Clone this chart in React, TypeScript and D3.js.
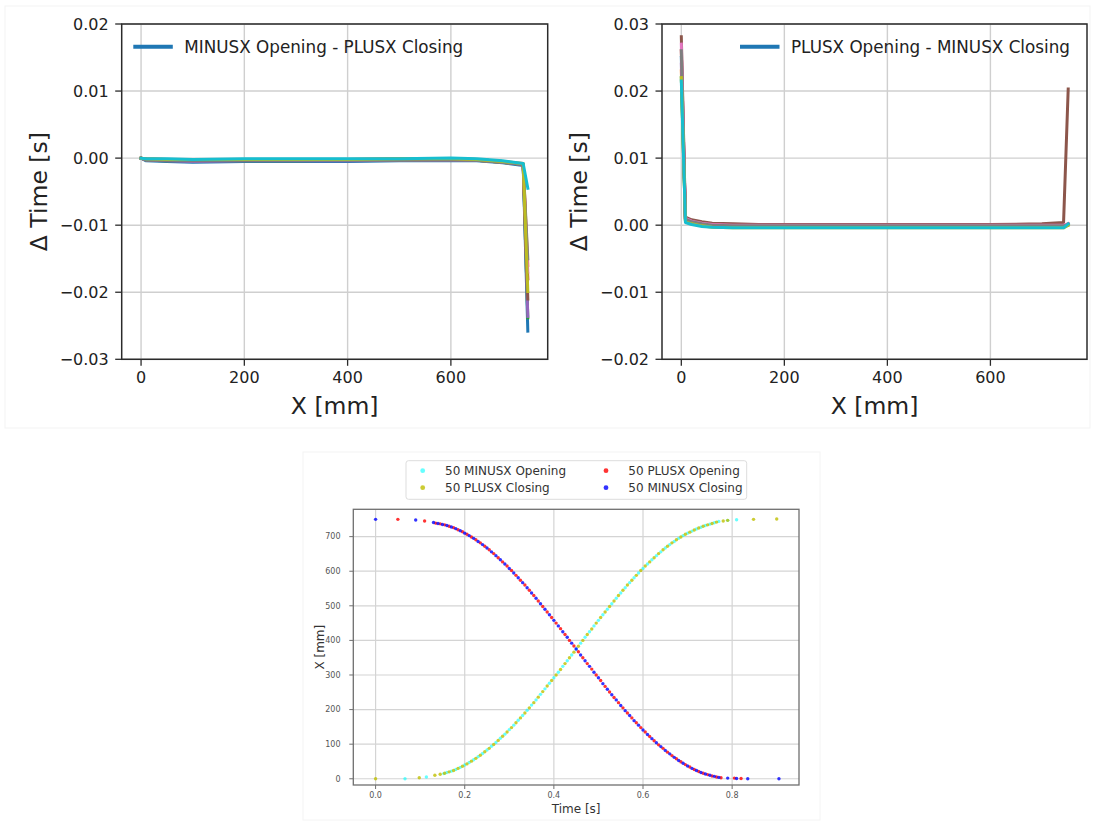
import React from "react";
import * as d3 from "d3";

// ---------- colours (matplotlib tab10 cycle) ----------
const tab10 = ["#1f77b4", "#ff7f0e", "#2ca02c", "#d62728", "#9467bd", "#8c564b", "#e377c2", "#7f7f7f", "#bcbd22", "#17becf"];

// ---------- top-left: MINUSX Opening - PLUSX Closing ----------
const leftXs = [0, 10, 50, 100, 200, 300, 400, 500, 600, 650, 700, 740, 749];
const leftRun0 = [0, -0.0004, -0.0005, -0.0006, -0.0005, -0.0005, -0.0005, -0.0004, -0.0004, -0.0004, -0.0007, -0.0011, -0.0258];
const leftRun1 = [0, -0.0002, -0.0003, -0.0003, -0.0003, -0.0003, -0.0003, -0.0002, -0.0002, -0.0003, -0.0006, -0.0009, -0.016];
const leftRun2 = [0, -0.0003, -0.0004, -0.0004, -0.0004, -0.0004, -0.0003, -0.0003, -0.0003, -0.0003, -0.0006, -0.001, -0.0238];
const leftRun3 = [0, -0.0001, -0.0002, -0.0002, -0.0002, -0.0002, -0.0002, -0.0001, -0.0001, -0.0002, -0.0005, -0.0009, -0.018];
const leftRun4 = [0, -0.0003, -0.0004, -0.0005, -0.0004, -0.0004, -0.0004, -0.0003, -0.0003, -0.0003, -0.0006, -0.001, -0.0236];
const leftRun5 = [0, -0.0002, -0.0003, -0.0003, -0.0003, -0.0002, -0.0002, -0.0002, -0.0002, -0.0002, -0.0005, -0.0009, -0.021];
const leftRun6 = [0, -0.0002, -0.0002, -0.0003, -0.0002, -0.0002, -0.0002, -0.0002, -0.0002, -0.0002, -0.0005, -0.0008, -0.017];
const leftRun7 = [0, -0.0003, -0.0003, -0.0004, -0.0003, -0.0003, -0.0003, -0.0003, -0.0002, -0.0003, -0.0006, -0.0009, -0.015];
const leftRun8 = [0, -0.0001, -0.0002, -0.0002, -0.0002, -0.0002, -0.0002, -0.0001, -0.0001, -0.0002, -0.0005, -0.0008, -0.0199];
const leftRun9 = [0, -0.0001, -0.0001, -0.0002, -0.0001, -0.0001, -0.0001, -0.0001, 0, -0.0001, -0.0004, -0.0008, -0.0045];
const leftRuns = [leftRun0, leftRun1, leftRun2, leftRun3, leftRun4, leftRun5, leftRun6, leftRun7, leftRun8, leftRun9];
const leftYTicks = [-0.03, -0.02, -0.01, 0, 0.01, 0.02];

// ---------- top-right: PLUSX Opening - MINUSX Closing ----------
const rightXs = [0, 8, 20, 40, 60, 100, 150, 200, 300, 400, 500, 600, 700, 742, 751];
const rightRun0 = [0.025, 0.0008, 0.0004, 0.0001, -0.0001, -0.0002, -0.0002, -0.0002, -0.0002, -0.0002, -0.0002, -0.0002, -0.0002, -0.0002, 0.0001];
const rightRun1 = [0.023, 0.0007, 0.0003, 0.0, -0.0002, -0.0003, -0.0003, -0.0003, -0.0003, -0.0003, -0.0003, -0.0003, -0.0003, -0.0003, 0.0001];
const rightRun2 = [0.022, 0.0006, 0.0003, 0.0, -0.0002, -0.0003, -0.0003, -0.0003, -0.0003, -0.0003, -0.0003, -0.0003, -0.0003, -0.0003, 0.0];
const rightRun3 = [0.026, 0.0009, 0.0005, 0.0002, 0.0, -0.0001, -0.0001, -0.0001, -0.0001, -0.0001, -0.0001, -0.0001, -0.0001, -0.0001, 0.0002];
const rightRun4 = [0.024, 0.0008, 0.0004, 0.0001, -0.0001, -0.0002, -0.0002, -0.0002, -0.0002, -0.0002, -0.0002, -0.0002, -0.0002, -0.0002, 0.0001];
const rightRun5 = [0.0281, 0.0012, 0.0008, 0.0005, 0.0003, 0.0002, 0.0001, 0.0001, 0.0001, 0.0001, 0.0001, 0.0001, 0.0002, 0.0004, 0.0203];
const rightRun6 = [0.027, 0.001, 0.0006, 0.0003, 0.0001, 0.0, 0.0, 0.0, 0.0, 0.0, 0.0, 0.0, 0.0, 0.0, 0.0002];
const rightRun7 = [0.026, 0.0009, 0.0005, 0.0002, 0.0, -0.0001, -0.0001, -0.0001, -0.0001, -0.0001, -0.0001, -0.0001, -0.0001, -0.0001, 0.0001];
const rightRun8 = [0.022, 0.0005, 0.0002, -0.0001, -0.0003, -0.0004, -0.0004, -0.0004, -0.0004, -0.0004, -0.0004, -0.0004, -0.0004, -0.0004, 0.0];
const rightRun9 = [0.0215, 0.0004, 0.0001, -0.0002, -0.0003, -0.0004, -0.0004, -0.0004, -0.0004, -0.0004, -0.0004, -0.0004, -0.0004, -0.0004, 0.0002];
const rightRuns = [rightRun0, rightRun1, rightRun2, rightRun3, rightRun4, rightRun5, rightRun6, rightRun7, rightRun8, rightRun9];
const rightYTicks = [-0.02, -0.01, 0, 0.01, 0.02, 0.03];

const topXTicks = [0, 200, 400, 600];

// ---------- bottom scatter: [time s, X mm] ----------
const minusxOpening: [number, number][] = [
  [0.066, 0], [0.114, 5], [0.153, 15], [0.16, 18], [0.17, 22], [0.18, 27], [0.19, 33], [0.2, 40], [0.21, 47], [0.22, 55],
  [0.23, 64], [0.24, 73], [0.25, 83], [0.26, 94], [0.27, 105], [0.28, 117], [0.29, 129], [0.3, 142], [0.31, 155], [0.32, 169],
  [0.33, 183], [0.34, 198], [0.35, 213], [0.36, 228], [0.37, 244], [0.38, 260], [0.39, 276], [0.4, 292], [0.41, 308], [0.42, 325],
  [0.43, 341], [0.44, 358], [0.45, 375], [0.46, 392], [0.47, 409], [0.48, 425], [0.49, 442], [0.5, 458], [0.51, 474], [0.52, 490],
  [0.53, 506], [0.54, 522], [0.55, 537], [0.56, 552], [0.57, 567], [0.58, 581], [0.59, 595], [0.6, 608], [0.61, 621], [0.62, 633],
  [0.63, 645], [0.64, 656], [0.65, 667], [0.66, 677], [0.67, 686], [0.68, 695], [0.69, 703], [0.7, 710], [0.71, 716], [0.72, 722],
  [0.73, 727], [0.74, 732], [0.75, 736], [0.76, 740], [0.77, 744], [0.79, 747], [0.81, 749],
];
const plusxClosing: [number, number][] = [
  [0.0, 0], [0.098, 3], [0.133, 10], [0.145, 13], [0.155, 16], [0.165, 20], [0.175, 24], [0.185, 30], [0.195, 36], [0.205, 43],
  [0.215, 51], [0.225, 59], [0.235, 68], [0.245, 78], [0.255, 88], [0.265, 99], [0.275, 111], [0.285, 123], [0.295, 135], [0.305, 148],
  [0.315, 162], [0.325, 176], [0.335, 190], [0.345, 205], [0.355, 220], [0.365, 236], [0.375, 252], [0.385, 268], [0.395, 284], [0.405, 300],
  [0.415, 316], [0.425, 333], [0.435, 350], [0.445, 366], [0.455, 383], [0.465, 400], [0.475, 417], [0.485, 433], [0.495, 450], [0.505, 466],
  [0.515, 482], [0.525, 498], [0.535, 514], [0.545, 530], [0.555, 545], [0.565, 560], [0.575, 574], [0.585, 588], [0.595, 602], [0.605, 615],
  [0.615, 627], [0.625, 639], [0.635, 651], [0.645, 662], [0.655, 672], [0.665, 682], [0.675, 691], [0.685, 699], [0.695, 707], [0.705, 713],
  [0.715, 719], [0.725, 725], [0.735, 730], [0.745, 734], [0.755, 738], [0.765, 742], [0.78, 745], [0.79, 747], [0.848, 750], [0.9, 751],
];
const plusxOpening: [number, number][] = [
  [0.05, 750], [0.11, 745], [0.135, 739], [0.145, 737], [0.155, 734], [0.165, 730], [0.175, 726], [0.185, 720], [0.195, 714], [0.205, 707],
  [0.215, 699], [0.225, 691], [0.235, 682], [0.245, 672], [0.255, 662], [0.265, 651], [0.275, 639], [0.285, 627], [0.295, 615], [0.305, 602],
  [0.315, 588], [0.325, 574], [0.335, 560], [0.345, 545], [0.355, 530], [0.365, 514], [0.375, 498], [0.385, 482], [0.395, 466], [0.405, 450],
  [0.415, 434], [0.425, 417], [0.435, 400], [0.445, 384], [0.455, 367], [0.465, 350], [0.475, 333], [0.485, 317], [0.495, 300], [0.505, 284],
  [0.515, 267], [0.525, 251], [0.535, 235], [0.545, 220], [0.555, 205], [0.565, 190], [0.575, 176], [0.585, 162], [0.595, 148], [0.605, 135],
  [0.615, 122], [0.625, 110], [0.635, 98], [0.645, 88], [0.655, 77], [0.665, 67], [0.675, 58], [0.685, 49], [0.695, 41], [0.705, 34],
  [0.715, 27], [0.725, 21], [0.735, 16], [0.745, 12], [0.755, 8], [0.765, 5], [0.775, 3], [0.805, 2], [0.82, 1],
];
const minusxClosing: [number, number][] = [
  [0.0, 750], [0.09, 748], [0.13, 741], [0.14, 738], [0.15, 735], [0.16, 732], [0.17, 728], [0.18, 723], [0.19, 717], [0.2, 710],
  [0.21, 703], [0.22, 695], [0.23, 686], [0.24, 677], [0.25, 667], [0.26, 656], [0.27, 645], [0.28, 633], [0.29, 621], [0.3, 608],
  [0.31, 595], [0.32, 581], [0.33, 567], [0.34, 552], [0.35, 537], [0.36, 522], [0.37, 506], [0.38, 490], [0.39, 474], [0.4, 458],
  [0.41, 442], [0.42, 425], [0.43, 409], [0.44, 392], [0.45, 375], [0.46, 358], [0.47, 341], [0.48, 325], [0.49, 308], [0.5, 292],
  [0.51, 275], [0.52, 259], [0.53, 243], [0.54, 228], [0.55, 212], [0.56, 197], [0.57, 183], [0.58, 168], [0.59, 155], [0.6, 141],
  [0.61, 128], [0.62, 116], [0.63, 104], [0.64, 93], [0.65, 82], [0.66, 72], [0.67, 62], [0.68, 53], [0.69, 45], [0.7, 37],
  [0.71, 30], [0.72, 24], [0.73, 18], [0.74, 14], [0.75, 10], [0.76, 7], [0.77, 4], [0.79, 2], [0.81, 1], [0.835, 0], [0.905, 0],
];
const scatterSeries = [
  { label: "50 MINUSX Opening", color: "#00ffff", opacity: 0.6, data: minusxOpening },
  { label: "50 PLUSX Closing", color: "#bfbf00", opacity: 0.8, data: plusxClosing },
  { label: "50 PLUSX Opening", color: "#ff0000", opacity: 0.8, data: plusxOpening },
  { label: "50 MINUSX Closing", color: "#0000ff", opacity: 0.8, data: minusxClosing },
];
const bottomXTicks = [0, 0.2, 0.4, 0.6, 0.8];
const bottomYTicks = [0, 100, 200, 300, 400, 500, 600, 700];

const FONT = "'DejaVu Sans', sans-serif";

type Box = { l: number; r: number; t: number; b: number };

function LinePanel(props: {
  id: string; box: Box; yDomain: [number, number]; yTicks: number[]; xs: number[]; runs: number[][];
  legend: string; legendX: number; yLabelX: number;
}) {
  const { id, box, yDomain, yTicks, xs, runs, legend, legendX, yLabelX } = props;
  const x = d3.scaleLinear().domain([-37.5, 787.5]).range([box.l, box.r]);
  const y = d3.scaleLinear().domain(yDomain).range([box.b, box.t]);
  const fmt = d3.format(".2f");
  const line = d3.line<number>().x((_, i) => x(xs[i])).y((d) => y(d));
  const cy = (box.t + box.b) / 2;
  const cx = (box.l + box.r) / 2;
  return (
    <g>
      <clipPath id={id}><rect x={box.l} y={box.t} width={box.r - box.l} height={box.b - box.t} /></clipPath>
      {topXTicks.map((v) => (
        <line key={"gx" + v} x1={x(v)} x2={x(v)} y1={box.t} y2={box.b} stroke="#cfcfcf" strokeWidth={1.4} />
      ))}
      {yTicks.map((v) => (
        <line key={"gy" + v} x1={box.l} x2={box.r} y1={y(v)} y2={y(v)} stroke="#cfcfcf" strokeWidth={1.4} />
      ))}
      <g clipPath={`url(#${id})`}>
        {runs.map((r, i) => (
          <path key={i} d={line(r) || ""} fill="none" stroke={tab10[i % 10]} strokeWidth={3} strokeLinejoin="round" strokeLinecap="square" />
        ))}
      </g>
      <rect x={box.l} y={box.t} width={box.r - box.l} height={box.b - box.t} fill="none" stroke="#2b2b2b" strokeWidth={1.5} />
      {topXTicks.map((v) => (
        <g key={"tx" + v}>
          <line x1={x(v)} x2={x(v)} y1={box.b} y2={box.b + 6.5} stroke="#2b2b2b" strokeWidth={1.3} />
          <text x={x(v)} y={box.b + 24} textAnchor="middle" fontSize={16} fill="#222" fontFamily={FONT}>{v}</text>
        </g>
      ))}
      {yTicks.map((v) => (
        <g key={"ty" + v}>
          <line x1={box.l - 6.5} x2={box.l} y1={y(v)} y2={y(v)} stroke="#2b2b2b" strokeWidth={1.3} />
          <text x={box.l - 13} y={y(v)} dy="0.35em" textAnchor="end" fontSize={16} fill="#222" fontFamily={FONT}>{fmt(v)}</text>
        </g>
      ))}
      <text x={cx} y={414} textAnchor="middle" fontSize={23.5} fill="#222" fontFamily={FONT}>X [mm]</text>
      <text transform={`translate(${yLabelX},${cy}) rotate(-90)`} textAnchor="middle" fontSize={23.5} fill="#222" fontFamily={FONT}>Δ Time [s]</text>
      <line x1={legendX} x2={legendX + 39.5} y1={46.7} y2={46.7} stroke={tab10[0]} strokeWidth={4} />
      <text x={legendX + 51} y={46.7} dy="0.35em" fontSize={16.8} fill="#222" fontFamily={FONT}>{legend}</text>
    </g>
  );
}

function ScatterPanel() {
  const box: Box = { l: 353.3, r: 799, t: 509.3, b: 785 };
  const x = d3.scaleLinear().domain([-0.05, 0.95]).range([box.l, box.r]);
  const y = d3.scaleLinear().domain([-18, 779]).range([box.b, box.t]);
  const fmt = d3.format(".1f");
  const legendPos = [
    { mx: 422.7, my: 470.7 },
    { mx: 422.7, my: 487.7 },
    { mx: 606, my: 470.7 },
    { mx: 606, my: 487.7 },
  ];
  return (
    <g>
      {bottomXTicks.map((v) => (
        <line key={"gx" + v} x1={x(v)} x2={x(v)} y1={box.t} y2={box.b} stroke="#d4d4d4" strokeWidth={1.2} />
      ))}
      {bottomYTicks.map((v) => (
        <line key={"gy" + v} x1={box.l} x2={box.r} y1={y(v)} y2={y(v)} stroke="#d4d4d4" strokeWidth={1.2} />
      ))}
      {scatterSeries.map((s) => (
        <g key={s.label}>
          {s.data.map((d, i) => (
            <circle key={i} cx={x(d[0])} cy={y(d[1])} r={1.7} fill={s.color} fillOpacity={s.opacity} />
          ))}
        </g>
      ))}
      <rect x={box.l} y={box.t} width={box.r - box.l} height={box.b - box.t} fill="none" stroke="#6f6f6f" strokeWidth={1.3} />
      {bottomXTicks.map((v) => (
        <g key={"tx" + v}>
          <line x1={x(v)} x2={x(v)} y1={box.b} y2={box.b + 4} stroke="#6f6f6f" strokeWidth={1} />
          <text x={x(v)} y={797.5} textAnchor="middle" fontSize={8} fill="#555" fontFamily={FONT}>{fmt(v)}</text>
        </g>
      ))}
      {bottomYTicks.map((v) => (
        <g key={"ty" + v}>
          <line x1={box.l - 4} x2={box.l} y1={y(v)} y2={y(v)} stroke="#6f6f6f" strokeWidth={1} />
          <text x={340.5} y={y(v)} dy="0.35em" textAnchor="end" fontSize={8} fill="#555" fontFamily={FONT}>{v}</text>
        </g>
      ))}
      <text x={(box.l + box.r) / 2} y={812.5} textAnchor="middle" fontSize={12} fill="#333" fontFamily={FONT}>Time [s]</text>
      <text transform={`translate(324,${(box.t + box.b) / 2}) rotate(-90)`} textAnchor="middle" fontSize={12} fill="#333" fontFamily={FONT}>X [mm]</text>
      <rect x={406} y={460.7} width={340.7} height={38.6} rx={2.5} fill="#fff" stroke="#dddddd" strokeWidth={1} />
      {scatterSeries.map((s, i) => (
        <g key={"lg" + s.label}>
          <circle cx={legendPos[i].mx} cy={legendPos[i].my} r={2.4} fill={s.color} fillOpacity={s.opacity} />
          <text x={legendPos[i].mx + 22.3} y={legendPos[i].my} dy="0.35em" fontSize={12} fill="#333" fontFamily={FONT}>{s.label}</text>
        </g>
      ))}
    </g>
  );
}

export default function App() {
  return (
    <svg width={1093} height={821} style={{ position: "absolute", left: 0, top: 0, background: "#fff" }}>
      <rect x={0} y={0} width={1093} height={821} fill="#fff" />
      <rect x={5} y={6} width={1085} height={422} fill="none" stroke="#f3f3f3" strokeWidth={1} />
      <rect x={303} y={452} width={517} height={368} fill="none" stroke="#f4f4f4" strokeWidth={1} />
      <LinePanel id="clipL" box={{ l: 121.7, r: 547.7, t: 24, b: 359.3 }} yDomain={[-0.03, 0.02]} yTicks={leftYTicks}
        xs={leftXs} runs={leftRuns} legend="MINUSX Opening - PLUSX Closing" legendX={133.3} yLabelX={46.5} />
      <LinePanel id="clipR" box={{ l: 662, r: 1087, t: 24, b: 359.3 }} yDomain={[-0.02, 0.03]} yTicks={rightYTicks}
        xs={rightXs} runs={rightRuns} legend="PLUSX Opening - MINUSX Closing" legendX={740} yLabelX={586.5} />
      <ScatterPanel />
    </svg>
  );
}
